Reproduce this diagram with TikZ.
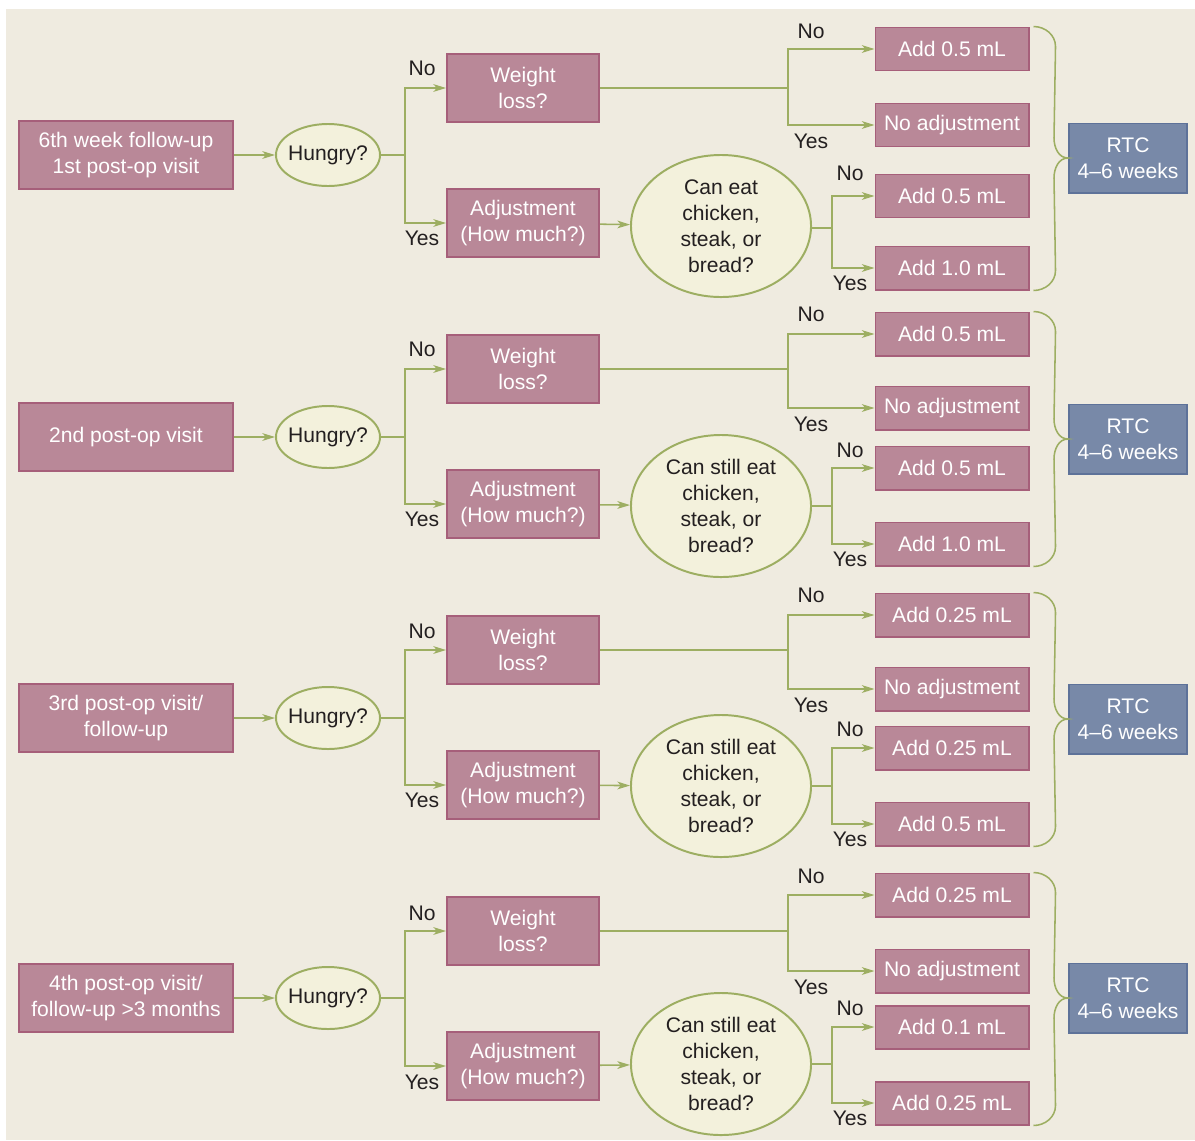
\documentclass[tikz,border=0pt]{standalone}
\usepackage{fontspec}
\setmainfont{Liberation Sans}
\usepackage{tikz}
\usetikzlibrary{arrows.meta, shapes.geometric, calc}
\definecolor{bgc}{HTML}{EFEBE0}
\definecolor{pinkf}{HTML}{B98898}
\definecolor{pinkd}{HTML}{A65F7A}
\definecolor{ovalf}{HTML}{F3F1DC}
\definecolor{olive}{HTML}{9DAE62}
\definecolor{bluef}{HTML}{7889A8}
\definecolor{blued}{HTML}{5E7299}
\definecolor{ink}{HTML}{231F20}
\tikzset{box/.style = {shape = rectangle, draw = pinkd, fill = pinkf, line width = 1.4pt, text = white,
    minimum width = 3.8cm, minimum height = 1.7cm, inner sep = 0pt, align = center}}
\tikzset{addbox/.style = {box, minimum width = 3.825cm, minimum height = 1.075cm}}
\tikzset{rtcbox/.style = {box, draw = blued, fill = bluef, minimum width = 2.95cm, minimum height = 1.725cm}}
\tikzset{question/.style = {shape = ellipse, draw = olive, fill = ovalf, line width = 1.4pt, text = ink,
    minimum width = 2.6cm, minimum height = 1.55cm, inner sep = 0pt, inner xsep = -0.4cm, align = center}}
\tikzset{bigquestion/.style = {question, minimum width = 4.5cm, minimum height = 3.55cm}}
\tikzset{answer/.style = {text = ink, inner sep = 0pt}}
\tikzset{link/.style = {draw = olive, line width = 1.1pt}}
\tikzset{edge/.style = {link, -{Stealth[length = 9pt, width = 5.5pt, inset = 2.5pt]}}}
\tikzset{brace/.style = {draw = olive, line width = 1.1pt}}
\begin{document}
\begin{tikzpicture}[x = 0.025cm, y = -0.025cm, font = \fontsize{15pt}{18.5pt}\selectfont]
	\useasboundingbox (0, 0) rectangle (1195, 1140);
	\fill[white] (0, 0) rectangle (1195, 1140);
	\fill[bgc] (6, 9) rectangle (1195, 1140);

	% 6th week
	\node[box, minimum width = 5.325cm] (s1) at (126, 155) {6th week follow-up\\1st post-op visit};
	\node[question] (h1) at (328, 155) {Hungry?};
	\node[box] (w1) at (523, 88) {Weight\\loss?};
	\node[box] (j1) at (523, 223) {Adjustment\\(How much?)};
	\node[bigquestion] (c1) at (721, 226) {Can eat\\chicken,\\steak, or\\bread?};
	\node[addbox] (a1) at (952, 49) {Add 0.5 mL};
	\node[addbox] (n1) at (952, 125) {No adjustment};
	\node[addbox] (b1) at (952, 196) {Add 0.5 mL};
	\node[addbox] (d1) at (952, 268) {Add 1.0 mL};
	\node[rtcbox] (r1) at (1128, 158) {RTC\\4--6 weeks};
	\node[answer] (l1a) at (422, 68) {No};
	\node[answer] (l1b) at (422, 238) {Yes};
	\node[answer] (l1c) at (811, 31) {No};
	\node[answer] (l1d) at (811, 141) {Yes};
	\node[answer] (l1e) at (850, 173) {No};
	\node[answer] (l1f) at (850, 283) {Yes};
	\coordinate (k1) at (405, 155);
	\coordinate (m1) at (788, 88);
	\coordinate (q1) at (832, 228);

	\draw[edge] (s1) to (h1);
	\draw[link] (h1) -- (k1);
	\draw[edge] (k1) |- (w1);
	\draw[edge] (k1) |- (j1);
	\draw[edge] (j1) to (c1);
	\draw[link] (w1) -- (m1);
	\draw[edge] (m1) |- (a1);
	\draw[edge] (m1) |- (n1);
	\draw[link] (c1.east |- q1) -- (q1);
	\draw[edge] (q1) |- (b1);
	\draw[edge] (q1) |- (d1);
	\draw[brace] ([xshift = 0.1cm]a1.north east) to[out = 0, in = 90] ++(22, 20)
		-- ($(r1.west) + (-14, -20)$) to[out = -90, in = 180] (r1.west)
		to[out = 180, in = 90] ++(-14, 20) -- ($(d1.south east) + (26, -20)$)
		to[out = -90, in = 0] ([xshift = 0.1cm]d1.south east);

	% 2nd visit
	\node[box, minimum width = 5.325cm] (s2) at (126, 437) {2nd post-op visit};
	\node[question] (h2) at (328, 437) {Hungry?};
	\node[box] (w2) at (523, 369) {Weight\\loss?};
	\node[box] (j2) at (523, 504) {Adjustment\\(How much?)};
	\node[bigquestion] (c2) at (721, 506) {Can still eat\\chicken,\\steak, or\\bread?};
	\node[addbox] (a2) at (952, 334) {Add 0.5 mL};
	\node[addbox] (n2) at (952, 408) {No adjustment};
	\node[addbox] (b2) at (952, 468) {Add 0.5 mL};
	\node[addbox] (d2) at (952, 544) {Add 1.0 mL};
	\node[rtcbox] (r2) at (1128, 439) {RTC\\4--6 weeks};
	\node[answer] (l2a) at (422, 349) {No};
	\node[answer] (l2b) at (422, 519) {Yes};
	\node[answer] (l2c) at (811, 314) {No};
	\node[answer] (l2d) at (811, 424) {Yes};
	\node[answer] (l2e) at (850, 450) {No};
	\node[answer] (l2f) at (850, 559) {Yes};
	\coordinate (k2) at (405, 437);
	\coordinate (m2) at (788, 369);
	\coordinate (q2) at (832, 506);

	\draw[edge] (s2) to (h2);
	\draw[link] (h2) -- (k2);
	\draw[edge] (k2) |- (w2);
	\draw[edge] (k2) |- (j2);
	\draw[edge] (j2) to (c2);
	\draw[link] (w2) -- (m2);
	\draw[edge] (m2) |- (a2);
	\draw[edge] (m2) |- (n2);
	\draw[link] (c2.east |- q2) -- (q2);
	\draw[edge] (q2) |- (b2);
	\draw[edge] (q2) |- (d2);
	\draw[brace] ([xshift = 0.1cm]a2.north east) to[out = 0, in = 90] ++(22, 20)
		-- ($(r2.west) + (-14, -20)$) to[out = -90, in = 180] (r2.west)
		to[out = 180, in = 90] ++(-14, 20) -- ($(d2.south east) + (26, -20)$)
		to[out = -90, in = 0] ([xshift = 0.1cm]d2.south east);

	% 3rd visit
	\node[box, minimum width = 5.325cm] (s3) at (126, 718) {3rd post-op visit/\\follow-up};
	\node[question] (h3) at (328, 718) {Hungry?};
	\node[box] (w3) at (523, 650) {Weight\\loss?};
	\node[box] (j3) at (523, 785) {Adjustment\\(How much?)};
	\node[bigquestion] (c3) at (721, 786) {Can still eat\\chicken,\\steak, or\\bread?};
	\node[addbox] (a3) at (952, 615) {Add 0.25 mL};
	\node[addbox] (n3) at (952, 689) {No adjustment};
	\node[addbox] (b3) at (952, 748) {Add 0.25 mL};
	\node[addbox] (d3) at (952, 824) {Add 0.5 mL};
	\node[rtcbox] (r3) at (1128, 719) {RTC\\4--6 weeks};
	\node[answer] (l3a) at (422, 631) {No};
	\node[answer] (l3b) at (422, 800) {Yes};
	\node[answer] (l3c) at (811, 595) {No};
	\node[answer] (l3d) at (811, 705) {Yes};
	\node[answer] (l3e) at (850, 729) {No};
	\node[answer] (l3f) at (850, 839) {Yes};
	\coordinate (k3) at (405, 718);
	\coordinate (m3) at (788, 650);
	\coordinate (q3) at (832, 786);

	\draw[edge] (s3) to (h3);
	\draw[link] (h3) -- (k3);
	\draw[edge] (k3) |- (w3);
	\draw[edge] (k3) |- (j3);
	\draw[edge] (j3) to (c3);
	\draw[link] (w3) -- (m3);
	\draw[edge] (m3) |- (a3);
	\draw[edge] (m3) |- (n3);
	\draw[link] (c3.east |- q3) -- (q3);
	\draw[edge] (q3) |- (b3);
	\draw[edge] (q3) |- (d3);
	\draw[brace] ([xshift = 0.1cm]a3.north east) to[out = 0, in = 90] ++(22, 20)
		-- ($(r3.west) + (-14, -20)$) to[out = -90, in = 180] (r3.west)
		to[out = 180, in = 90] ++(-14, 20) -- ($(d3.south east) + (26, -20)$)
		to[out = -90, in = 0] ([xshift = 0.1cm]d3.south east);

	% 4th visit
	\node[box, minimum width = 5.325cm] (s4) at (126, 998) {4th post-op visit/\\follow-up >3 months};
	\node[question] (h4) at (328, 998) {Hungry?};
	\node[box] (w4) at (523, 931) {Weight\\loss?};
	\node[box] (j4) at (523, 1066) {Adjustment\\(How much?)};
	\node[bigquestion] (c4) at (721, 1064) {Can still eat\\chicken,\\steak, or\\bread?};
	\node[addbox] (a4) at (952, 895) {Add 0.25 mL};
	\node[addbox] (n4) at (952, 971) {No adjustment};
	\node[addbox] (b4) at (952, 1027) {Add 0.1 mL};
	\node[addbox] (d4) at (952, 1103) {Add 0.25 mL};
	\node[rtcbox] (r4) at (1128, 998) {RTC\\4--6 weeks};
	\node[answer] (l4a) at (422, 913) {No};
	\node[answer] (l4b) at (422, 1082) {Yes};
	\node[answer] (l4c) at (811, 876) {No};
	\node[answer] (l4d) at (811, 987) {Yes};
	\node[answer] (l4e) at (850, 1008) {No};
	\node[answer] (l4f) at (850, 1118) {Yes};
	\coordinate (k4) at (405, 998);
	\coordinate (m4) at (788, 931);
	\coordinate (q4) at (832, 1064);

	\draw[edge] (s4) to (h4);
	\draw[link] (h4) -- (k4);
	\draw[edge] (k4) |- (w4);
	\draw[edge] (k4) |- (j4);
	\draw[edge] (j4) to (c4);
	\draw[link] (w4) -- (m4);
	\draw[edge] (m4) |- (a4);
	\draw[edge] (m4) |- (n4);
	\draw[link] (c4.east |- q4) -- (q4);
	\draw[edge] (q4) |- (b4);
	\draw[edge] (q4) |- (d4);
	\draw[brace] ([xshift = 0.1cm]a4.north east) to[out = 0, in = 90] ++(22, 20)
		-- ($(r4.west) + (-14, -20)$) to[out = -90, in = 180] (r4.west)
		to[out = 180, in = 90] ++(-14, 20) -- ($(d4.south east) + (26, -20)$)
		to[out = -90, in = 0] ([xshift = 0.1cm]d4.south east);
\end{tikzpicture}
\end{document}
